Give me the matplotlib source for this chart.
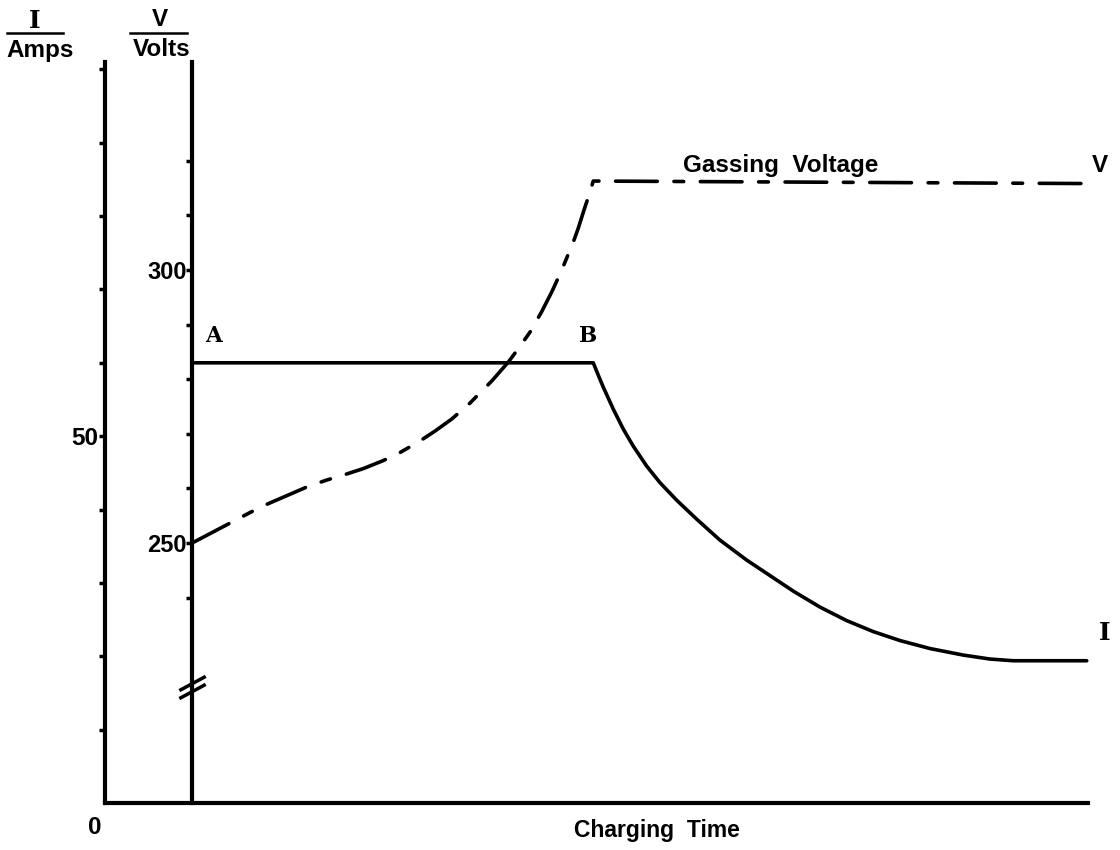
import matplotlib.pyplot as plt
from matplotlib.lines import Line2D

# charging time (arbitrary units, 0..10 across the bottom axis)
t_start = 0.885
current_t = [0.885, 4.967, 5.018, 5.069, 5.171, 5.273, 5.374, 5.511, 5.646, 5.815,
             6.019, 6.256, 6.528, 6.732, 7.002, 7.274, 7.545, 7.816, 8.088, 8.393,
             8.732, 9.003, 9.240, 9.987]
current_a = [60.0, 60.0, 58.31, 56.68, 53.68, 50.95, 48.64, 45.91, 43.66, 41.28,
             38.69, 35.83, 33.11, 31.29, 28.88, 26.70, 24.86, 23.36, 22.14, 21.05,
             20.16, 19.62, 19.39, 19.39]

voltage_t = [0.885, 1.272, 1.475, 1.628, 2.052, 2.255, 2.424, 2.628, 2.831, 3.001,
             3.187, 3.357, 3.527, 3.713, 3.934, 4.103, 4.205, 4.324, 4.443, 4.544,
             4.629, 4.680, 4.764, 4.815, 4.873, 4.934, 4.967, 9.969]
voltage_v = [250.0, 253.66, 255.59, 256.96, 260.26, 261.54, 262.45, 263.64, 265.11, 266.58,
             268.50, 270.51, 272.71, 275.64, 279.67, 283.15, 285.62, 288.64, 292.40, 295.97,
             299.27, 301.47, 305.13, 307.69, 311.0, 314.29, 316.30, 315.84]

amp_ticks = list(range(10, 101, 10))
amp_labels = ['50' if a == 50 else '' for a in amp_ticks]
volt_ticks = list(range(240, 321, 10))
volt_labels = [str(v) if v in (250, 300) else '' for v in volt_ticks]

plt.rcParams['lines.scale_dashes'] = False
SANS = 'Liberation Sans'
SERIF = 'DejaVu Serif'

W, H = 1120, 850
fig = plt.figure(figsize=(W / 100, H / 100), dpi=100)
ax = fig.add_axes([105 / W, 47 / H, 983 / W, 741 / H])
ax.set_xlim(0, 10)
ax.set_ylim(0, 101)
for s in ('top', 'right'):
    ax.spines[s].set_visible(False)
for s in ('left', 'bottom'):
    ax.spines[s].set_linewidth(3)
ax.set_xticks([])
ax.set_yticks(amp_ticks)
ax.set_yticklabels(amp_labels, fontfamily=SANS, fontweight='bold', fontsize=17.5)
ax.tick_params(axis='y', direction='out', length=4, width=2.5, pad=1)

ax2 = ax.twinx()
ax2.set_ylim(202.4, 338.1)
for s in ('top', 'right', 'bottom'):
    ax2.spines[s].set_visible(False)
ax2.spines['left'].set_visible(True)
ax2.spines['left'].set_position(('data', t_start))
ax2.spines['left'].set_linewidth(3)
ax2.yaxis.tick_left()
ax2.set_yticks(volt_ticks)
ax2.set_yticklabels(volt_labels, fontfamily=SANS, fontweight='bold', fontsize=17)
ax2.tick_params(axis='y', direction='out', length=4, width=2.5, pad=0)

# current (solid) and voltage (dashed)
ax.plot(current_t, current_a, color='black', lw=2.6, solid_joinstyle='round',
        solid_capstyle='round', clip_on=False)
vline, = ax2.plot(voltage_t, voltage_v, color='black', lw=2.6,
                  dash_capstyle='round', dash_joinstyle='round', clip_on=False)
vline.set_dashes([30, 12, 7, 12])

# axis break marks on the volts axis
ax2.plot([t_start, t_start], [222.9, 224.3], ls='none', color='black',
         marker=[(-13, -7), (13, 7)], markersize=19, markeredgewidth=2.5,
         clip_on=False)

ax.text(1.10, 63.6, 'A', family=SERIF, weight='bold', fontsize=15.5, ha='center', va='center')
ax.text(4.91, 63.6, 'B', family=SERIF, weight='bold', fontsize=15.5, ha='center', va='center')
ax.text(10.17, 23.2, 'I', family=SERIF, weight='bold', fontsize=18, ha='center', va='center')
ax.text(10.12, 86.9, 'V', family=SANS, weight='bold', fontsize=17.5, ha='center', va='center')
ax.text(6.87, 86.9, 'Gassing  Voltage', family=SANS, weight='bold', fontsize=17.5,
        ha='center', va='center')

fig.text(95 / W, 1 - 828 / H, '0', family=SANS, weight='bold', fontsize=17.5,
         ha='center', va='center')
fig.text(657 / W, 1 - 830 / H, 'Charging  Time', family=SANS, weight='bold', fontsize=16.5,
         ha='center', va='center')

# axis headers: symbol over unit
fig.text(35 / W, 1 - 21 / H, 'I', family=SERIF, weight='bold', fontsize=18,
         ha='center', va='center')
fig.text(160 / W, 1 - 20 / H, 'V', family=SANS, weight='bold', fontsize=17.5,
         ha='center', va='center')
fig.add_artist(Line2D([7 / W, 63 / W], [1 - 33 / H, 1 - 33 / H], color='black', lw=1.8))
fig.add_artist(Line2D([130 / W, 187 / W], [1 - 33 / H, 1 - 33 / H], color='black', lw=1.8))
fig.text(40 / W, 1 - 50 / H, 'Amps', family=SANS, weight='bold', fontsize=17.5,
         ha='center', va='center')
fig.text(162 / W, 1 - 50 / H, 'Volts', family=SANS, weight='bold', fontsize=17.5,
         ha='center', va='center')

fig.savefig('out.png', dpi=100)
